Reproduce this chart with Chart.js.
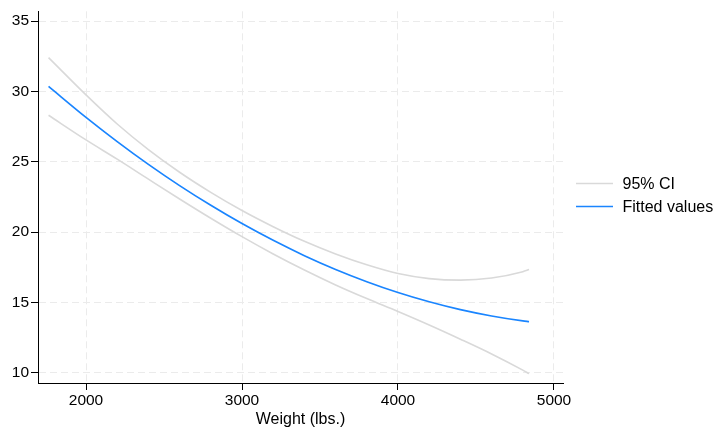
<!DOCTYPE html>
<html>
<head>
<meta charset="utf-8">
<script src="https://cdn.jsdelivr.net/npm/chart.js@4/dist/chart.umd.min.js"></script>
<style>
html,body{margin:0;padding:0;background:#fff;}
#wrap{width:714px;height:430px;position:relative;}
</style>
</head>
<body>
<div id="wrap"><canvas id="c" width="714" height="430"></canvas></div>
<script>
// Weight (lbs.) sample positions
const weights = [1760, 2000, 2200, 2400, 2600, 2800, 3000, 3200, 3400, 3600, 3800, 4000, 4200, 4400, 4600, 4800, 4840];
// Fitted values
const fitted = [30.36, 28.16, 26.44, 24.82, 23.31, 21.91, 20.61, 19.42, 18.33, 17.35, 16.48, 15.71, 15.05, 14.49, 14.04, 13.69, 13.64];
// 95% CI bounds
const ciUpper = [32.41, 29.76, 27.69, 25.87, 24.26, 22.83, 21.54, 20.39, 19.35, 18.45, 17.68, 17.06, 16.70, 16.59, 16.74, 17.19, 17.34];
const ciLower = [28.31, 26.56, 25.19, 23.77, 22.36, 20.99, 19.68, 18.45, 17.31, 16.25, 15.28, 14.36, 13.40, 12.39, 11.34, 10.19, 9.94];
// Tick labels
const xTicks = [2000, 3000, 4000, 5000];
const yTicks = [10, 15, 20, 25, 30, 35];
const xTitle = 'Weight (lbs.)';
const legendLabels = ['95% CI', 'Fitted values'];

const FONT = "'Liberation Sans', Arial, Helvetica, sans-serif";
const BLUE = '#1a85ff';
const GRAY = '#d9d9d9';
const GRID = '#ebebeb';

const pts = (ys) => weights.map((w, i) => ({x: w, y: ys[i]}));

const legendPlugin = {
  id: 'customLegend',
  afterDraw(chart) {
    const ctx = chart.ctx;
    const items = [{label: legendLabels[0], color: GRAY, w: 1.6}, {label: legendLabels[1], color: BLUE, w: 1.6}];
    const x0 = 576, x1 = 613, tx = 622.5;
    const ys = [183.5, 206.5];
    ctx.save();
    ctx.font = '16px ' + FONT;
    ctx.textBaseline = 'middle';
    ctx.textAlign = 'left';
    items.forEach((it, i) => {
      ctx.strokeStyle = it.color;
      ctx.lineWidth = it.w;
      ctx.beginPath();
      ctx.moveTo(x0, ys[i]);
      ctx.lineTo(x1, ys[i]);
      ctx.stroke();
      ctx.fillStyle = '#000';
      ctx.fillText(it.label, tx, ys[i] + 1);
    });
    ctx.restore();
  }
};

new Chart(document.getElementById('c'), {
  type: 'line',
  data: {
    datasets: [
      {label: legendLabels[1], data: pts(fitted), borderColor: BLUE, borderWidth: 1.7, pointRadius: 0, cubicInterpolationMode: 'monotone', fill: false},
      {label: legendLabels[0], data: pts(ciUpper), borderColor: GRAY, borderWidth: 1.6, pointRadius: 0, cubicInterpolationMode: 'monotone', fill: false},
      {label: legendLabels[0] + ' lower', data: pts(ciLower), borderColor: GRAY, borderWidth: 1.6, pointRadius: 0, cubicInterpolationMode: 'monotone', fill: false}
    ]
  },
  options: {
    responsive: false,
    animation: false,
    events: [],
    layout: {padding: {left: 0, right: 151, top: 7, bottom: 0}},
    plugins: {legend: {display: false}, tooltip: {enabled: false}},
    scales: {
      x: {
        type: 'linear',
        min: 1692.3,
        max: 5057.7,
        afterBuildTicks: (s) => { s.ticks = xTicks.map(v => ({value: v})); },
        afterFit: (s) => { s.height = 47; },
        ticks: {color: '#000', font: {family: FONT, size: 15.5}, padding: 1, maxRotation: 0, autoSkip: false, callback: (v) => String(v)},
        grid: {color: GRID, lineWidth: 1, tickLength: 7, tickColor: '#000', tickWidth: 1, tickBorderDash: [1, 0]},
        border: {display: true, color: '#000', width: 1, dash: [7, 4]},
        title: {display: true, text: xTitle, color: '#000', font: {family: FONT, size: 16}, padding: {top: 0, bottom: 1}}
      },
      y: {
        type: 'linear',
        min: 9.276,
        max: 35.703,
        afterBuildTicks: (s) => { s.ticks = yTicks.map(v => ({value: v})); },
        afterFit: (s) => { s.width = 38; },
        ticks: {color: '#000', font: {family: FONT, size: 15.5}, padding: 2, callback: (v) => String(v)},
        grid: {color: GRID, lineWidth: 1, tickLength: 7, tickColor: '#000', tickWidth: 1, tickBorderDash: [1, 0]},
        border: {display: true, color: '#000', width: 1, dash: [7, 4]}
      }
    }
  },
  plugins: [legendPlugin]
});
</script>
</body>
</html>
